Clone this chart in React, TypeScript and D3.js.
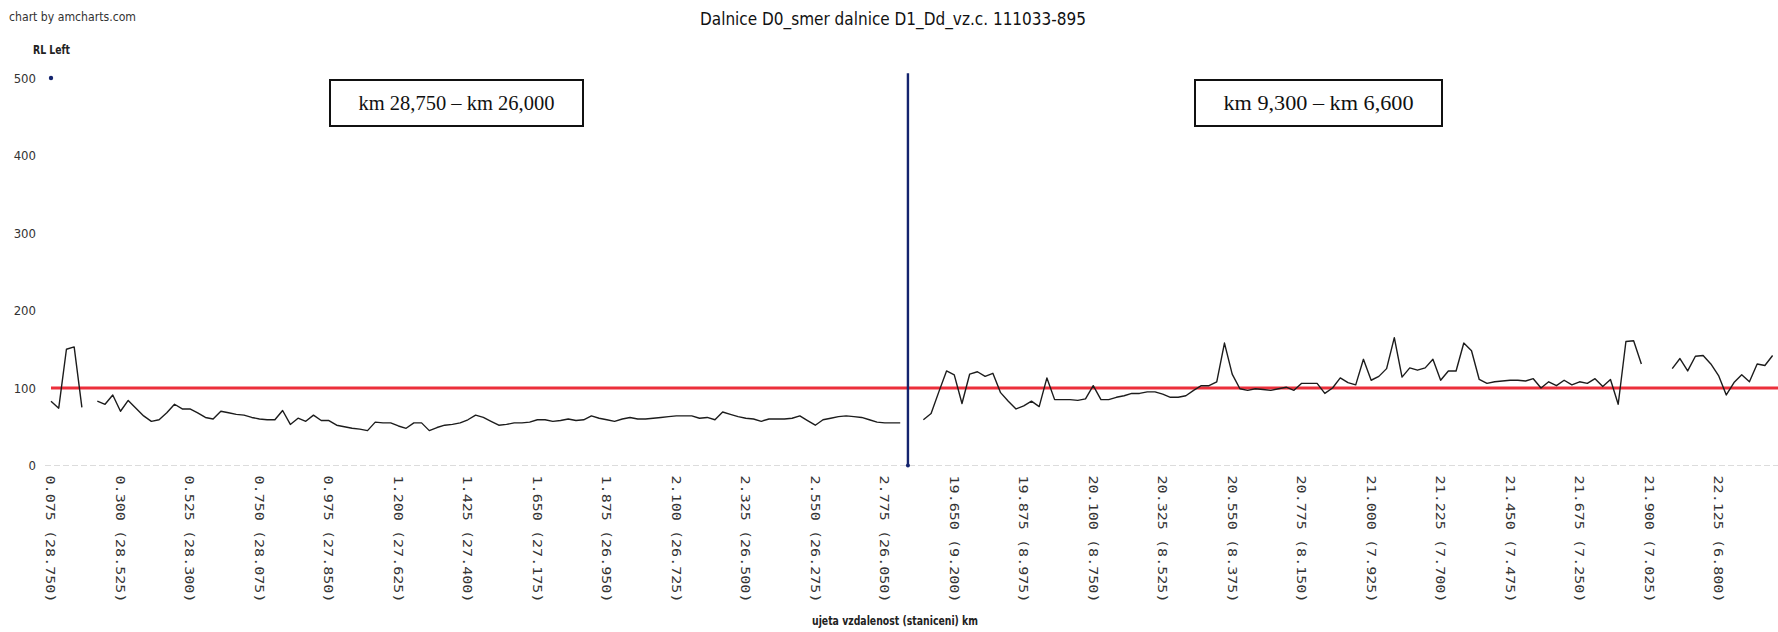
import React from "react";
import * as d3 from "d3";

// ---- data ----
const leftValues: (number | null)[] = [
  83, 74, 150, 153, 75, null, 83, 79, 91, 70,
  84, 74, 64, 57, 59, 68, 79, 73, 73, 68,
  62, 60, 70, 68, 66, 65, 62, 60, 59, 59,
  71, 53, 61, 57, 65, 58, 58, 52, 50, 48,
  47, 45, 56, 55, 55, 51, 48, 55, 55, 45,
  49, 52, 53, 55, 59, 65, 62, 57, 52, 53,
  55, 55, 56, 59, 59, 57, 58, 60, 58, 59,
  64, 61, 59, 57, 60, 62, 60, 60, 61, 62,
  63, 64, 64, 64, 61, 62, 59, 69, 66, 63,
  61, 60, 57, 60, 60, 60, 61, 64, 58, 52,
  59, 61, 63, 64, 63, 62, 59, 56, 55, 55, 55,
];
const gapValues: (number | null)[] = [null, null];
const rightValues: (number | null)[] = [
  59, 67, 95, 122, 117, 80, 118, 121, 115, 119,
  94, 83, 73, 77, 83, 76, 113, 85, 85, 85,
  84, 86, 103, 85, 85, 88, 90, 93, 93, 95,
  95, 92, 88, 88, 90, 97, 103, 103, 108, 158,
  118, 99, 97, 99, 98, 97, 99, 101, 97, 106,
  106, 106, 93, 100, 113, 107, 104, 137, 110, 115,
  125, 165, 114, 126, 123, 126, 137, 110, 122, 122,
  158, 148, 111, 106, 108, 109, 110, 110, 109, 112,
  100, 108, 103, 110, 104, 108, 106, 112, 102, 111,
  79, 160, 161, 131, null, null, null, 125, 138, 122,
  141, 142, 131, 116, 91, 107, 117, 108, 131, 129, 142,
];
const seriesValues = [...leftValues, ...gapValues, ...rightValues];

const tickLabels = [
  "0.075 (28.750)", "0.300 (28.525)", "0.525 (28.300)", "0.750 (28.075)",
  "0.975 (27.850)", "1.200 (27.625)", "1.425 (27.400)", "1.650 (27.175)",
  "1.875 (26.950)", "2.100 (26.725)", "2.325 (26.500)", "2.550 (26.275)",
  "2.775 (26.050)", "19.650 (9.200)", "19.875 (8.975)", "20.100 (8.750)",
  "20.325 (8.525)", "20.550 (8.375)", "20.775 (8.150)", "21.000 (7.925)",
  "21.225 (7.700)", "21.450 (7.475)", "21.675 (7.250)", "21.900 (7.025)",
  "22.125 (6.800)",
];
const tickEvery = 9;
const yTicks = [0, 100, 200, 300, 400, 500];
const limitValue = 100;
const markerIndex = 111;
const markerRange = [0, 506];
const markerPoint = [0, 500];
const boxLabels = ["km 28,750 – km 26,000", "km 9,300 – km 6,600"];

const W = 1778;
const H = 632;

export default function App() {
  const n = seriesValues.length;
  const x = d3.scaleLinear().domain([0, n - 1]).range([51, 1772.6]);
  const y = d3.scaleLinear().domain([0, 500]).range([465.5, 78]);

  const line = d3
    .line<number | null>()
    .defined((d) => d != null)
    .x((_, i) => x(i))
    .y((d) => y(d as number));

  const narrow = "'Liberation Sans Narrow','DejaVu Sans Condensed','Liberation Sans',sans-serif";

  return (
    <svg
      width={W}
      height={H}
      style={{ position: "absolute", left: 0, top: 0, display: "block", background: "#fff" }}
    >
      <rect x={0} y={0} width={W} height={H} fill="#fff" />
      {/* headers */}
      <text x={9} y={21} fontFamily={narrow} fontSize={13} fill="#333" textLength={127} lengthAdjust="spacingAndGlyphs">
        chart by amcharts.com
      </text>
      <text x={700} y={25} fontFamily={narrow} fontSize={17} fill="#111" textLength={386} lengthAdjust="spacingAndGlyphs">
        Dalnice D0_smer dalnice D1_Dd_vz.c. 111033-895
      </text>
      <text x={33} y={54} fontFamily={narrow} fontSize={12} fontWeight="bold" fill="#222" textLength={37} lengthAdjust="spacingAndGlyphs">
        RL Left
      </text>

      {/* y tick labels */}
      {yTicks.map((t) => (
        <text key={t} x={36} y={y(t)} dy="0.35em" textAnchor="end" fontFamily={narrow} fontSize={13} fill="#333">
          {t}
        </text>
      ))}

      {/* x axis line */}
      <line x1={45} x2={W} y1={y(0)} y2={y(0)} stroke="#dcdcdc" strokeWidth={1.2} strokeDasharray="6 3" />

      {/* x tick labels */}
      {tickLabels.map((lab, k) => {
        const xi = x(k * tickEvery);
        return (
          <text
            key={lab}
            transform={`translate(${xi},${y(0) + 10}) rotate(90)`}
            dy="0.35em"
            fontFamily="'DejaVu Sans Mono',monospace"
            fontSize={13}
            fill="#333"
            textLength={127}
            lengthAdjust="spacingAndGlyphs"
          >
            {lab}
          </text>
        );
      })}

      <text x={812} y={625} fontFamily={narrow} fontSize={13} fontWeight="bold" fill="#222" textLength={166} lengthAdjust="spacingAndGlyphs">
        ujeta vzdalenost (staniceni) km
      </text>

      {/* limit line */}
      <line x1={x(0)} x2={W} y1={y(limitValue)} y2={y(limitValue)} stroke="#ec2f3b" strokeWidth={3} />

      {/* data line */}
      <path d={line(seriesValues) || ""} fill="none" stroke="#1c1c1c" strokeWidth={1.4} strokeLinejoin="round" />

      {/* blue marker */}
      <line
        x1={x(markerIndex)}
        x2={x(markerIndex)}
        y1={y(markerRange[0])}
        y2={y(markerRange[1])}
        stroke="#14246e"
        strokeWidth={2.4}
      />
      <circle cx={x(markerIndex)} cy={y(markerRange[0])} r={2} fill="#14246e" />
      <circle cx={x(markerPoint[0])} cy={y(markerPoint[1])} r={2.2} fill="#14246e" />

      {/* boxes */}
      <rect x={330} y={80} width={253} height={46} fill="#fff" stroke="#111" strokeWidth={2} />
      <text x={456.5} y={110} textAnchor="middle" fontFamily="'Liberation Serif',serif" fontSize={20} fill="#111" textLength={196} lengthAdjust="spacingAndGlyphs">
        {boxLabels[0]}
      </text>
      <rect x={1195} y={80} width={247} height={46} fill="#fff" stroke="#111" strokeWidth={2} />
      <text x={1318.5} y={110} textAnchor="middle" fontFamily="'Liberation Serif',serif" fontSize={20} fill="#111" textLength={190} lengthAdjust="spacingAndGlyphs">
        {boxLabels[1]}
      </text>
    </svg>
  );
}
